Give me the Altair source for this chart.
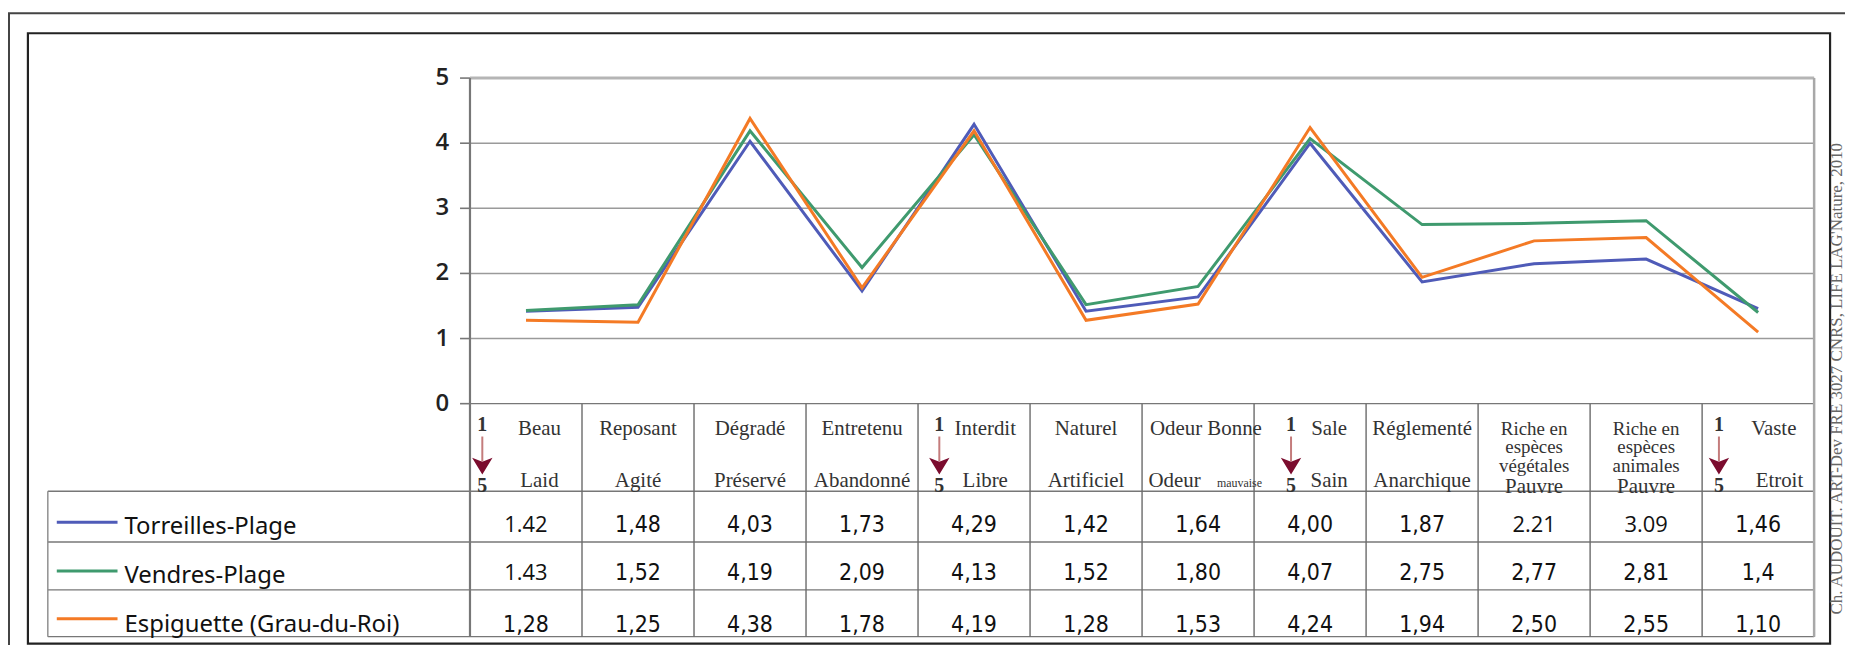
import altair as alt
import pandas as pd

# ---------------- data ----------------
labels_top = ["Beau", "Reposant", "Dégradé", "Entretenu", "Interdit", "Naturel",
              "Odeur Bonne", "Sale", "Réglementé", "Riche en\nespèces\nvégétales",
              "Riche en\nespèces\nanimales", "Vaste"]
labels_bottom = ["Laid", "Agité", "Préservé", "Abandonné", "Libre", "Artificiel",
                 "Odeur", "Sain", "Anarchique", "Pauvre", "Pauvre", "Etroit"]
small_label = "mauvaise"
series = ["Torreilles-Plage", "Vendres-Plage", "Espiguette (Grau-du-Roi)"]
colors = ["#4f5bb8", "#3f9a6e", "#f47a25"]

# values as drawn by the lines
torreilles = [1.42, 1.48, 4.03, 1.73, 4.29, 1.42, 1.64, 4.00, 1.87, 2.15, 2.22, 1.46]
vendres = [1.43, 1.52, 4.19, 2.09, 4.13, 1.52, 1.80, 4.07, 2.75, 2.77, 2.81, 1.40]
espiguette = [1.28, 1.25, 4.38, 1.78, 4.19, 1.28, 1.53, 4.24, 1.94, 2.50, 2.55, 1.10]

# values as printed in the table
torreilles_table = ["1.42", "1,48", "4,03", "1,73", "4,29", "1,42", "1,64", "4,00", "1,87", "2.21", "3.09", "1,46"]
vendres_table = ["1.43", "1,52", "4,19", "2,09", "4,13", "1,52", "1,80", "4,07", "2,75", "2,77", "2,81", "1,4"]
espiguette_table = ["1,28", "1,25", "4,38", "1,78", "4,19", "1,28", "1,53", "4,24", "1,94", "2,50", "2,55", "1,10"]

y_ticks = [0, 1, 2, 3, 4, 5]
arrow_columns = [0, 4, 7, 11]
credit = "Ch. AUDOUIT. ART-Dev FRE 3027 CNRS, LIFE LAG'Nature, 2010"

# ---------------- layout (page pixels -> scale units) ----------------
PXX, X0 = 112.5, 472.0
PXY, Y0 = 65.4, 404.0
def ux(p): return (p - X0) / PXX
def uy(p): return (Y0 - p) / PXY

LEFT, TOP, RIGHT, BOTTOM = 28, 32, 1838, 645
W, H = RIGHT - LEFT, BOTTOM - TOP
xs = alt.Scale(domain=[ux(LEFT), ux(RIGHT)], nice=False, zero=False)
ys = alt.Scale(domain=[uy(BOTTOM), uy(TOP)], nice=False, zero=False)
ncol = len(labels_top)

row_lines = [uy(492), uy(543), uy(591), uy(638)]
row_text = [uy(526), uy(574), uy(626)]
legend_line_y = [uy(523), uy(572), uy(620)]
legend_text_y = [uy(528), uy(577), uy(626)]
top_dx = {0: 0.62, 4: 0.6, 6: 0.57, 7: 0.67, 11: 0.64}
bot_dx = {0: 0.62, 4: 0.6, 6: 0.29, 7: 0.67, 11: 0.69}
bot_py = {9: 488, 10: 488}
arrow_dx = {0: 0.11, 4: 0.19, 7: 0.33, 11: 0.15}
legend_left = ux(48)

X = lambda f: alt.X(f, scale=xs, axis=None)
X2 = lambda f: alt.X2(f)
Y = lambda f: alt.Y(f, scale=ys, axis=None)
Y2 = lambda f: alt.Y2(f)
color_enc = alt.Color("s:N", scale=alt.Scale(domain=series, range=colors), legend=None)

# ---------------- frames & grid ----------------
outer = alt.Chart(pd.DataFrame({"a": [0]})).mark_rect(
    fillOpacity=0, stroke="#444", strokeWidth=2).encode(
    x=alt.value(-19), x2=alt.value(1840), y=alt.value(-20), y2=alt.value(700))

grid_df = pd.DataFrame({"y": y_ticks[1:], "x": 0, "x2": ncol})
grid = alt.Chart(grid_df).mark_rule(color="#9a9a9a", strokeWidth=1.6).encode(
    x=X("x:Q"), x2=X2("x2"), y=Y("y:Q"))
top_grid = alt.Chart(pd.DataFrame({"y": [5], "x": [0], "x2": [ncol]})).mark_rule(
    color="#b5b5b5", strokeWidth=3).encode(x=X("x:Q"), x2=X2("x2"), y=Y("y:Q"))

vlines_df = pd.DataFrame({
    "x": [0, ncol] + list(range(1, ncol)),
    "y": [5, 5] + [0] * (ncol - 1),
    "y2": [row_lines[-1]] * (ncol + 1)})
vlines = alt.Chart(vlines_df).mark_rule(color="#6a6a6a", strokeWidth=1.4).encode(
    x=X("x:Q"), y=Y("y:Q"), y2=Y2("y2"))
axis_line = alt.Chart(pd.DataFrame({"x": [0], "y": [5], "y2": [row_lines[-1]]})).mark_rule(
    color="#777", strokeWidth=2.2).encode(x=X("x:Q"), y=Y("y:Q"), y2=Y2("y2"))
right_line = alt.Chart(pd.DataFrame({"x": [ncol], "y": [5], "y2": [row_lines[-1]]})).mark_rule(
    color="#a8a8a8", strokeWidth=2.5).encode(x=X("x:Q"), y=Y("y:Q"), y2=Y2("y2"))

hlines_df = pd.DataFrame({
    "y": [0] + row_lines,
    "x": [0] + [legend_left] * len(row_lines),
    "x2": [ncol] * (1 + len(row_lines))})
hlines = alt.Chart(hlines_df).mark_rule(color="#777", strokeWidth=1.4).encode(
    x=X("x:Q"), x2=X2("x2"), y=Y("y:Q"))
leg_vline = alt.Chart(pd.DataFrame({"x": [legend_left], "y": [row_lines[0]], "y2": [row_lines[-1]]})).mark_rule(
    color="#888", strokeWidth=1.4).encode(x=X("x:Q"), y=Y("y:Q"), y2=Y2("y2"))

# y axis ticks & labels
ticks_df = pd.DataFrame({"y": y_ticks, "x": ux(462), "x2": 0})
ticks = alt.Chart(ticks_df).mark_rule(color="#777", strokeWidth=1.6).encode(
    x=X("x:Q"), x2=X2("x2"), y=Y("y:Q"))
tick_labels = alt.Chart(pd.DataFrame({"y": y_ticks, "x": ux(451)})).mark_text(
    align="right", baseline="middle", font="Open Sans", fontSize=24, fontWeight=600,
    color="#222").encode(x=X("x:Q"), y=Y("y:Q"), text=alt.Text("y:Q", format="d"))

# ---------------- lines ----------------
line_rows = []
for s, vals in zip(series, [torreilles, vendres, espiguette]):
    for i, v in enumerate(vals):
        line_rows.append({"s": s, "x": i + 0.5, "v": v, "o": i})
lines = alt.Chart(pd.DataFrame(line_rows)).mark_line(strokeWidth=3).encode(
    x=X("x:Q"), y=Y("v:Q"), color=color_enc, order="o:Q", detail="s:N")

# ---------------- header ----------------
top_df = pd.DataFrame({"t": labels_top,
                       "x": [i + top_dx.get(i, 0.5) for i in range(ncol)],
                       "y": uy(429)})
top_df["multi"] = top_df["t"].str.contains("\n")
bot_df = pd.DataFrame({"t": labels_bottom,
                       "x": [i + bot_dx.get(i, 0.5) for i in range(ncol)],
                       "y": [uy(bot_py.get(i, 482)) for i in range(ncol)]})
hdr_kw = dict(align="center", baseline="middle", font="Liberation Serif",
              color="#333", lineBreak="\n")
top_text = alt.Chart(top_df[~top_df["multi"]]).mark_text(fontSize=21, **hdr_kw).encode(
    x=X("x:Q"), y=Y("y:Q"), text="t:N")
top_multi = alt.Chart(top_df[top_df["multi"]]).mark_text(fontSize=19, lineHeight=19, **hdr_kw).encode(
    x=X("x:Q"), y=Y("y:Q"), text="t:N")
bot_text = alt.Chart(bot_df).mark_text(fontSize=21, **hdr_kw).encode(
    x=X("x:Q"), y=Y("y:Q"), text="t:N")
small_text = alt.Chart(pd.DataFrame({"t": [small_label], "x": [6 + 0.87], "y": [uy(484)]})).mark_text(
    align="center", baseline="middle", font="Liberation Serif", fontSize=12, color="#333").encode(
    x=X("x:Q"), y=Y("y:Q"), text="t:N")

arr_x = [c + arrow_dx[c] for c in arrow_columns]
one_five = pd.DataFrame({"t": ["1"] * 4 + ["5"] * 4, "x": arr_x * 2,
                         "y": [uy(425)] * 4 + [uy(487)] * 4})
arrow_digits = alt.Chart(one_five).mark_text(
    align="center", baseline="middle", font="Liberation Serif", fontSize=20,
    fontWeight="bold", color="#333").encode(x=X("x:Q"), y=Y("y:Q"), text="t:N")
shafts = alt.Chart(pd.DataFrame({"x": arr_x, "y": uy(437), "y2": uy(462)})).mark_rule(
    color="#c47c7c", strokeWidth=2).encode(x=X("x:Q"), y=Y("y:Q"), y2=Y2("y2"))
heads = alt.Chart(pd.DataFrame({"x": arr_x, "y": uy(466)})).mark_point(
    shape="M-1,-0.75L0,0.9L1,-0.75L0,-0.35Z", size=420, filled=True, opacity=1,
    color="#7b0c2e").encode(x=X("x:Q"), y=Y("y:Q"))

# ---------------- table values ----------------
val_rows = []
for r, (s, vals) in enumerate(zip(series, [torreilles_table, vendres_table, espiguette_table])):
    for i, t in enumerate(vals):
        val_rows.append({"t": t, "x": i + 0.5, "y": row_text[r], "isdot": "." in t})
vdf = pd.DataFrame(val_rows)
vals_narrow = alt.Chart(vdf[~vdf["isdot"]]).mark_text(
    align="center", baseline="middle",
    font="Liberation Sans Narrow, DejaVu Sans Condensed, Roboto, sans-serif",
    fontSize=23, fontWeight=500, color="#111").encode(x=X("x:Q"), y=Y("y:Q"), text="t:N")
vals_wide = alt.Chart(vdf[vdf["isdot"]]).mark_text(
    align="center", baseline="middle", font="Open Sans", fontSize=22,
    color="#111").encode(x=X("x:Q"), y=Y("y:Q"), text="t:N")

# ---------------- legend column ----------------
leg_df = pd.DataFrame({"s": series, "x": ux(57), "x2": ux(118), "y": legend_line_y,
                       "tx": ux(125), "ty": legend_text_y})
leg_lines = alt.Chart(leg_df).mark_rule(strokeWidth=3).encode(
    x=X("x:Q"), x2=X2("x2"), y=Y("y:Q"), color=color_enc)
leg_text = alt.Chart(leg_df).mark_text(
    align="left", baseline="middle", font="Noto Sans", fontSize=24, color="#111").encode(
    x=X("tx:Q"), y=Y("ty:Q"), text="s:N")

# ---------------- credit ----------------
credit_text = alt.Chart(pd.DataFrame({"t": [credit]})).mark_text(
    angle=270, align="center", baseline="middle", font="Liberation Serif", fontSize=17,
    color="#666").encode(x=alt.value(1817), y=alt.value(347), text="t:N")

chart = alt.layer(
    outer, grid, top_grid, hlines, vlines, leg_vline, axis_line, right_line, ticks, tick_labels,
    lines, top_text, top_multi, bot_text, small_text, shafts, heads, arrow_digits,
    vals_narrow, vals_wide, leg_lines, leg_text, credit_text
).properties(
    width=W, height=H,
    autosize=alt.AutoSizeParams(type="none"),
    padding={"left": 20, "top": 24, "right": 15, "bottom": 0},
    background="white"
).configure_view(stroke="#222", strokeWidth=2.2)

chart.save("out.html", embed_options={"renderer": "svg", "actions": False})
